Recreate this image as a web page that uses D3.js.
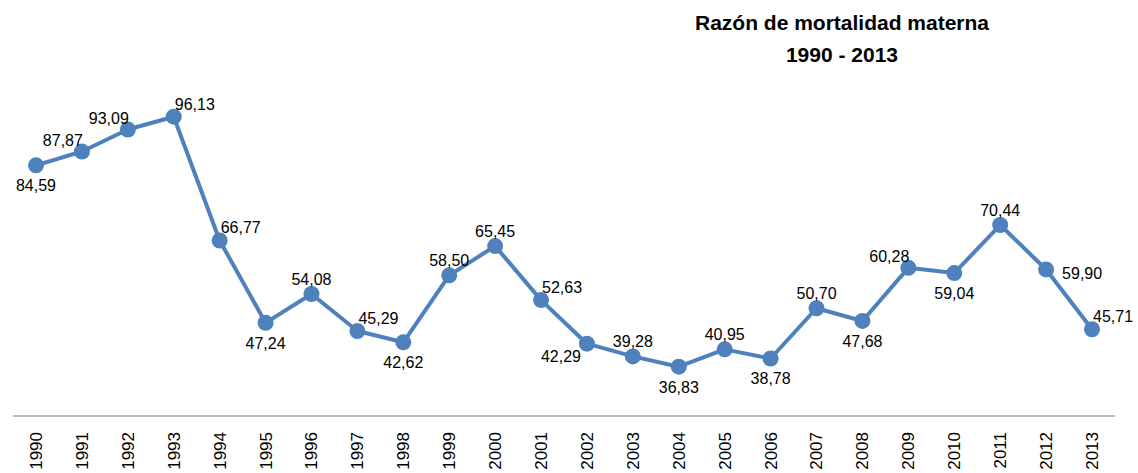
<!DOCTYPE html>
<html>
<head>
<meta charset="utf-8">
<script src="https://cdn.jsdelivr.net/npm/d3@7"></script>
<style>
  body { margin: 0; background: #fff; }
  svg { display: block; }
</style>
</head>
<body>
<div id="chart"></div>
<script>
const years = ["1990","1991","1992","1993","1994","1995","1996","1997","1998","1999","2000","2001",
               "2002","2003","2004","2005","2006","2007","2008","2009","2010","2011","2012","2013"];
const razon = [84.59, 87.87, 93.09, 96.13, 66.77, 47.24, 54.08, 45.29, 42.62, 58.50, 65.45, 52.63,
               42.29, 39.28, 36.83, 40.95, 38.78, 50.70, 47.68, 60.28, 59.04, 70.44, 59.90, 45.71];
// donde va cada etiqueta respecto al punto
const ubicacion = ["below","aboveLeft","aboveLeft","aboveRight","aboveRight","below","above","aboveRight",
                   "below","above","above","aboveRight","belowLeft","above","below","above","below","above",
                   "below","aboveLeft","below","above","right","aboveRight"];
const titulo = ["Razón de mortalidad materna", "1990 - 2013"];

const width = 1138, height = 473;
const azul = "#4f81bd";

const svg = d3.select("#chart").append("svg")
    .attr("width", width)
    .attr("height", height);

const x = d3.scalePoint().domain(years).range([36, 1092]);
const y = d3.scaleLinear().domain([30, 100]).range([395.5, 100.4]);

// eje x
const ejeY = 416;
svg.append("line")
    .attr("x1", 13).attr("x2", 1115)
    .attr("y1", ejeY).attr("y2", ejeY)
    .attr("stroke", "#a6a6a6").attr("stroke-width", 1.5);

svg.append("g").selectAll("text").data(years).enter().append("text")
    .attr("transform", d => `translate(${x(d)},432) rotate(-90)`)
    .attr("text-anchor", "end")
    .attr("dy", "0.35em")
    .style("font-family", "'Liberation Sans', Arial, sans-serif")
    .style("font-size", "17px")
    .attr("fill", "#000")
    .text(d => d);

const datos = years.map((yr, i) => ({ yr, v: razon[i], pos: ubicacion[i] }));

const linea = d3.line().x(d => x(d.yr)).y(d => y(d.v));

svg.append("path")
    .datum(datos)
    .attr("d", linea)
    .attr("fill", "none")
    .attr("stroke", azul)
    .attr("stroke-width", 4)
    .attr("stroke-linejoin", "round");

svg.append("g").selectAll("circle").data(datos).enter().append("circle")
    .attr("cx", d => x(d.yr))
    .attr("cy", d => y(d.v))
    .attr("r", 8)
    .attr("fill", azul);

const desp = {
    below:      { dx: 0,  dy: 26, anchor: "middle" },
    above:      { dx: 0,  dy: -9, anchor: "middle" },
    aboveLeft:  { dx: 1,  dy: -6, anchor: "end" },
    aboveRight: { dx: 1,  dy: -7, anchor: "start" },
    belowLeft:  { dx: -6, dy: 18, anchor: "end" },
    right:      { dx: 16, dy: 10, anchor: "start" }
};

svg.append("g").selectAll("text").data(datos).enter().append("text")
    .attr("x", d => x(d.yr) + desp[d.pos].dx)
    .attr("y", d => y(d.v) + desp[d.pos].dy)
    .attr("text-anchor", d => desp[d.pos].anchor)
    .style("font-family", "'Liberation Sans', Arial, sans-serif")
    .style("font-size", "16px")
    .attr("fill", "#000")
    .text(d => d3.format(".2f")(d.v).replace(".", ","));

svg.append("g").selectAll("text").data(titulo).enter().append("text")
    .attr("x", 842)
    .attr("y", (d, i) => 30 + i * 32)
    .attr("text-anchor", "middle")
    .style("font-family", "'Liberation Sans', Arial, sans-serif")
    .style("font-size", "21px")
    .style("font-weight", "bold")
    .attr("fill", "#000")
    .text(d => d);
</script>
</body>
</html>
